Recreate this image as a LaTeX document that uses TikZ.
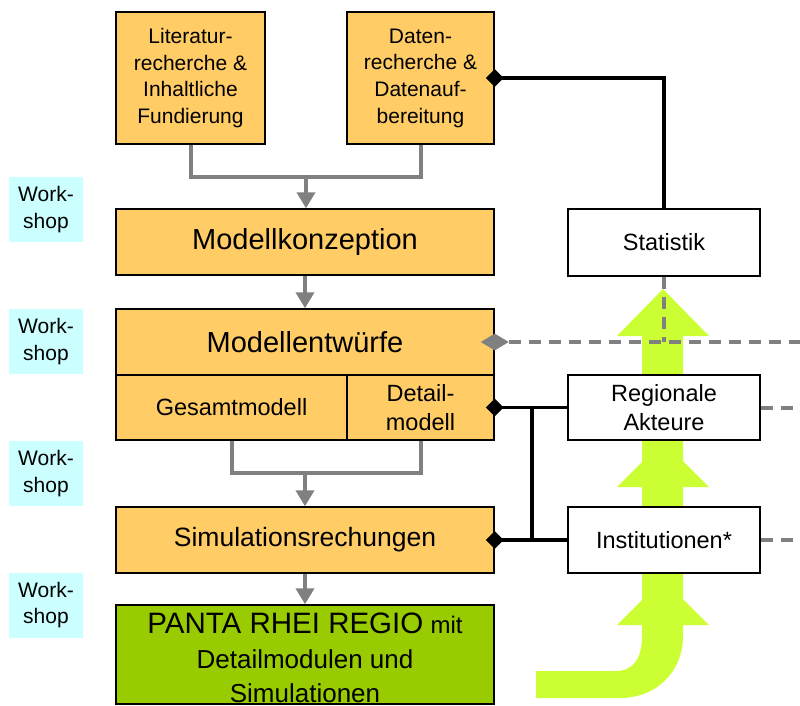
\documentclass[tikz,border=0pt]{standalone}
\usepackage{fontspec}
\setmainfont{Liberation Sans}
\usetikzlibrary{arrows.meta,shapes.geometric}
\definecolor{boxor}{HTML}{FFCC66}
\definecolor{wsc}{HTML}{CCFFFF}
\definecolor{limeg}{HTML}{CCFF33}
\definecolor{pgreen}{HTML}{99CC00}
\definecolor{gline}{HTML}{808080}
\begin{document}
\begin{tikzpicture}[x=1pt,y=-1pt,
  basebox/.style={draw=black,line width=1.5pt,inner sep=0pt,align=center,text=black},
  obox/.style={basebox,fill=boxor},
  wbox/.style={basebox,fill=white},
  wsbox/.style={fill=wsc,inner sep=0pt,align=center,minimum width=74pt,minimum height=65pt,
     font=\fontsize{21}{26.5}\selectfont},
  smalltxt/.style={font=\fontsize{21}{26.7}\selectfont},
  midtxt/.style={font=\fontsize{23.5}{29}\selectfont},
  bigtxt/.style={font=\fontsize{29}{34}\selectfont},
  gconn/.style={draw=gline,line width=4pt},
  garrow/.style={gconn,-{Triangle[width=18pt,length=16pt]}},
  gdash/.style={draw=gline,line width=4pt,dash pattern=on 12pt off 8pt},
  bconn/.style={draw=black,line width=3.2pt},
  bdia/.style={diamond,fill=black,inner sep=0pt,minimum width=18pt,minimum height=18pt},
  gdia/.style={diamond,fill=gline,inner sep=0pt,minimum width=28pt,minimum height=17pt},
  arrhead/.style={fill=limeg}
]
\useasboundingbox (0,0) rectangle (800,705);

% green arrow (background)
\fill[limeg] (536,671) -- (616,671) .. controls (632,671) and (642,660) .. (642,636)
   -- (642,336) -- (617,336) -- (663,289) -- (709,336) -- (683,336)
   -- (683,636) .. controls (683,672) and (656,698) .. (620,698) -- (536,698) -- cycle;
\fill[arrhead] (617,487) -- (663,441) -- (709,487) -- cycle;
\fill[arrhead] (617,625) -- (663,579) -- (709,625) -- cycle;

% workshop labels
\node[wsbox] (ws1) at (46,209.5) {Work-\\shop};
\node[wsbox] (ws2) at (46,341.5) {Work-\\shop};
\node[wsbox] (ws3) at (46,473.5) {Work-\\shop};
\node[wsbox] (ws4) at (46,605) {Work-\\shop};

% orange boxes
\node[obox,smalltxt,minimum width=149pt,minimum height=132pt] (lit) at (190.5,78)
  {Literatur-\\recherche \&\\Inhaltliche\\Fundierung};
\node[obox,smalltxt,minimum width=147pt,minimum height=132pt] (dat) at (420.5,78)
  {Daten-\\recherche \&\\Datenauf-\\bereitung};
\node[obox,bigtxt,minimum width=378pt,minimum height=66pt] (konz) at (305,242) {Modellkonzeption};
\node[obox,bigtxt,minimum width=378pt,minimum height=66pt] (entw) at (305,342) {Modellentwürfe};
\node[obox,midtxt,minimum width=231pt,minimum height=65pt] (ges) at (231.5,407.5) {Gesamtmodell};
\node[obox,midtxt,minimum width=147pt,minimum height=65pt] (det) at (420.5,407.5) {Detail-\\modell};
\node[obox,font=\fontsize{26.5}{32}\selectfont,minimum width=378pt,minimum height=66pt] (sim) at (305,540) {Simulationsrechungen};
\node[basebox,fill=pgreen,minimum width=378pt,minimum height=99pt] (panta) at (305,654.5) {};
\node[align=center,inner sep=0pt,font=\fontsize{26}{34.5}\selectfont] (pantatxt) at (305,658)
  {{\fontsize{29.5}{34.5}\selectfont PANTA RHEI REGIO} {\fontsize{24}{34.5}\selectfont mit}\\Detailmodulen und\\Simulationen};

% white boxes
\node[wbox,midtxt,minimum width=192pt,minimum height=67pt] (stat) at (664,242.5) {Statistik};
\node[wbox,midtxt,minimum width=192pt,minimum height=65pt] (reg) at (664,407.5) {Regionale\\Akteure};
\node[wbox,midtxt,minimum width=192pt,minimum height=66pt] (inst) at (664,540) {Institutionen*};

% gray flow connectors
\coordinate (j1) at (306,177);
\coordinate (j2) at (305,473);
\draw[gconn] (lit.south) |- (j1) -| (dat.south);
\draw[garrow] (j1) -- (konz.north -| j1);
\draw[garrow] (konz.south) -- (entw.north);
\draw[gconn] (ges.south) |- (j2) -| (det.south);
\draw[garrow] (j2) -- (sim.north);
\draw[garrow] (sim.south) -- (panta.north);

% dashed gray connectors
\coordinate (e1) at (800,342);
\coordinate (e2) at (800,407.5);
\coordinate (e3) at (800,540);
\node[gdia] (gd) at (entw.east) {};
\draw[gdash] (stat.south) -- (stat.south |- e1);
\draw[gdash] (gd.east) -- (e1);
\draw[gdash] (reg.east) -- (e2);
\draw[gdash] (inst.east) -- (e3);

% black connectors
\coordinate (vx) at (532,0);
\draw[bconn] (dat.east) -| (stat.north);
\draw[bconn] (det.east) -- (reg.west);
\draw[bconn] (sim.east) -- (inst.west);
\draw[bconn] (vx |- det.east) -- (vx |- sim.east);
\node[bdia] (d1) at (dat.east) {};
\node[bdia] (d2) at (det.east) {};
\node[bdia] (d3) at (sim.east) {};
\end{tikzpicture}
\end{document}
